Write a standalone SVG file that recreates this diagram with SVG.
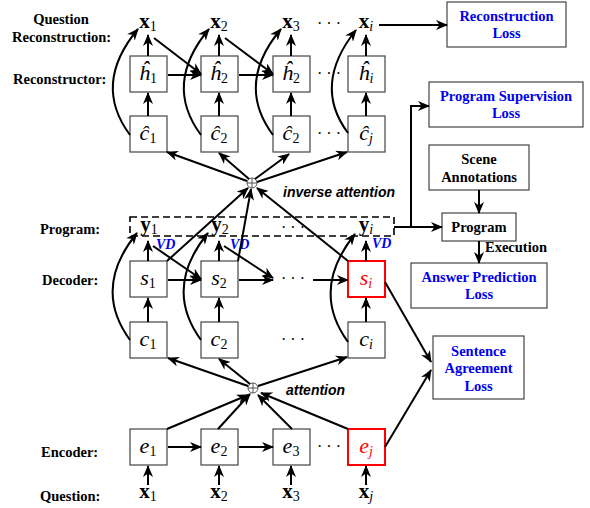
<svg xmlns="http://www.w3.org/2000/svg" width="590" height="508" viewBox="0 0 590 508">
<defs>
<marker id="ah" markerUnits="userSpaceOnUse" markerWidth="12" markerHeight="10" viewBox="0 0 12 10" refX="11" refY="5" orient="auto">
<path d="M0,0 L12,5 L0,10 L3.5,5 z" fill="#000"/>
</marker>
<style>
.bx{fill:#fff;stroke:#444;stroke-width:1.2}
.rb{fill:#fff;stroke:#f00;stroke-width:2}
.lb{font-family:"Liberation Serif",serif;font-weight:bold;font-size:14.5px;fill:#000}
.bl{fill:#0000ee}
.m{font-family:"Liberation Serif",serif;font-style:italic;font-size:22px;text-anchor:middle}
.v{font-family:"Liberation Serif",serif;font-weight:bold;font-size:21px;text-anchor:middle}
.s{font-size:14px;font-style:normal;font-weight:normal}
.si{font-size:14px;font-style:italic;font-weight:normal}
.d{font-family:"Liberation Serif",serif;font-size:16px;text-anchor:middle}
.it{font-family:"Liberation Sans",Arial,sans-serif;font-weight:bold;font-style:italic;font-size:14px}
.vd{font-family:"Liberation Serif",serif;font-weight:bold;font-style:italic;font-size:14px;fill:#0000ee}
.e{stroke:#000;stroke-width:2;fill:none;marker-end:url(#ah)}
.ln{stroke:#000;stroke-width:2;fill:none}
.red{fill:#f00}
.mid{text-anchor:middle}
</style>
</defs>

<g id="labels">
<text class="lb mid" x="61" y="24">Question</text>
<text class="lb" x="12" y="42">Reconstruction:</text>
<text class="lb" x="13" y="84">Reconstructor:</text>
<text class="lb" x="40" y="234">Program:</text>
<text class="lb" x="42" y="285">Decoder:</text>
<text class="lb" x="41" y="457">Encoder:</text>
<text class="lb" x="40" y="501">Question:</text>
</g>

<g id="recon-outputs">
<text class="v" x="148" y="28">x<tspan class="s" dy="3">1</tspan></text>
<text class="v" x="219" y="28">x<tspan class="s" dy="3">2</tspan></text>
<text class="v" x="291" y="28">x<tspan class="s" dy="3">3</tspan></text>
<text class="d" x="329" y="29">· · ·</text>
<text class="v" x="366" y="28">x<tspan class="si" dy="3">i</tspan></text>
</g>

<g id="h1"><rect class="bx" x="130" y="56" width="37" height="36"/><text class="m" x="148" y="80">ĥ<tspan class="s" dy="3">1</tspan></text></g>
<g id="h2"><rect class="bx" x="201" y="56" width="37" height="36"/><text class="m" x="219" y="80">ĥ<tspan class="s" dy="3">2</tspan></text></g>
<g id="h3"><rect class="bx" x="273" y="56" width="37" height="36"/><text class="m" x="291" y="80">ĥ<tspan class="s" dy="3">2</tspan></text></g>
<text class="d" x="329" y="79">· · ·</text>
<g id="hi"><rect class="bx" x="348" y="56" width="37" height="36"/><text class="m" x="366" y="80">ĥ<tspan class="si" dy="3">i</tspan></text></g>

<g id="c1h"><rect class="bx" x="130" y="116" width="37" height="36"/><text class="m" x="148" y="140">ĉ<tspan class="s" dy="3">1</tspan></text></g>
<g id="c2h"><rect class="bx" x="201" y="116" width="37" height="36"/><text class="m" x="219" y="140">ĉ<tspan class="s" dy="3">2</tspan></text></g>
<g id="c3h"><rect class="bx" x="273" y="116" width="37" height="36"/><text class="m" x="291" y="140">ĉ<tspan class="s" dy="3">2</tspan></text></g>
<text class="d" x="329" y="139">· · ·</text>
<g id="cjh"><rect class="bx" x="348" y="116" width="37" height="36"/><text class="m" x="366" y="140">ĉ<tspan class="si" dy="3">j</tspan></text></g>

<g id="inv-att"><circle cx="252" cy="183" r="5" fill="#fff" stroke="#555" stroke-width="1"/><path d="M247,183H257M252,178V188" stroke="#555" stroke-width="1"/></g>
<text class="it" x="283" y="197">inverse attention</text>

<g id="program-row">
<rect x="130" y="217" width="264" height="19" fill="none" stroke="#000" stroke-width="1.6" stroke-dasharray="7,4"/>
<text class="v" x="149" y="231">y<tspan class="s" dy="3">1</tspan></text>
<text class="v" x="220" y="231">y<tspan class="s" dy="3">2</tspan></text>
<text class="d" x="293" y="233">· · ·</text>
<text class="v" x="366" y="231">y<tspan class="si" dy="3">i</tspan></text>
</g>
<text class="vd" x="156" y="249">VD</text>
<text class="vd" x="230" y="249">VD</text>
<text class="vd" x="372" y="248">VD</text>

<g id="s1"><rect class="bx" x="130" y="261" width="37" height="36"/><text class="m" x="148" y="285">s<tspan class="s" dy="3">1</tspan></text></g>
<g id="s2"><rect class="bx" x="201" y="261" width="37" height="36"/><text class="m" x="219" y="285">s<tspan class="s" dy="3">2</tspan></text></g>
<text class="d" x="293" y="284">· · ·</text>
<g id="si"><rect class="rb" x="348" y="261" width="37" height="36"/><text class="m red" x="366" y="285">s<tspan class="si" dy="3">i</tspan></text></g>

<g id="c1"><rect class="bx" x="130" y="322" width="37" height="36"/><text class="m" x="148" y="346">c<tspan class="s" dy="3">1</tspan></text></g>
<g id="c2"><rect class="bx" x="201" y="322" width="37" height="36"/><text class="m" x="219" y="346">c<tspan class="s" dy="3">2</tspan></text></g>
<text class="d" x="293" y="345">· · ·</text>
<g id="ci"><rect class="bx" x="348" y="322" width="37" height="36"/><text class="m" x="366" y="346">c<tspan class="si" dy="3">i</tspan></text></g>

<g id="att"><circle cx="253" cy="388" r="5" fill="#fff" stroke="#555" stroke-width="1"/><path d="M248,388H258M253,383V393" stroke="#555" stroke-width="1"/></g>
<text class="it" x="286" y="395">attention</text>

<g id="e1"><rect class="bx" x="130" y="429" width="37" height="36"/><text class="m" x="148" y="453">e<tspan class="s" dy="3">1</tspan></text></g>
<g id="e2"><rect class="bx" x="201" y="429" width="37" height="36"/><text class="m" x="219" y="453">e<tspan class="s" dy="3">2</tspan></text></g>
<g id="e3"><rect class="bx" x="273" y="429" width="37" height="36"/><text class="m" x="291" y="453">e<tspan class="s" dy="3">3</tspan></text></g>
<text class="d" x="329" y="452">· · ·</text>
<g id="ej"><rect class="rb" x="348" y="429" width="37" height="36"/><text class="m red" x="366" y="453">e<tspan class="si" dy="3">j</tspan></text></g>

<g id="question">
<text class="v" x="148" y="498">x<tspan class="s" dy="3">1</tspan></text>
<text class="v" x="219" y="498">x<tspan class="s" dy="3">2</tspan></text>
<text class="v" x="291" y="498">x<tspan class="s" dy="3">3</tspan></text>
<text class="v" x="366" y="498">x<tspan class="si" dy="3">j</tspan></text>
</g>

<g id="recon-loss"><rect class="bx" x="447" y="2" width="119" height="45"/><text class="lb bl mid" x="506.5" y="21">Reconstruction</text><text class="lb bl mid" x="506.5" y="38">Loss</text></g>
<g id="prog-sup-loss"><rect class="bx" x="429" y="82" width="154" height="45"/><text class="lb bl mid" x="506" y="101">Program Supervision</text><text class="lb bl mid" x="506" y="118">Loss</text></g>
<g id="scene"><rect class="bx" x="429" y="145" width="100" height="45"/><text class="lb mid" x="479" y="164">Scene</text><text class="lb mid" x="479" y="182">Annotations</text></g>
<g id="program"><rect class="bx" x="442" y="213" width="74" height="28"/><text class="lb mid" x="479" y="232">Program</text></g>
<text class="lb" x="485" y="252">Execution</text>
<g id="answer-loss"><rect class="bx" x="411" y="263" width="136" height="45"/><text class="lb bl mid" x="479" y="282">Answer Prediction</text><text class="lb bl mid" x="479" y="299">Loss</text></g>
<g id="sent-loss"><rect class="bx" x="433" y="336" width="91" height="63"/><text class="lb bl mid" x="478.5" y="356">Sentence</text><text class="lb bl mid" x="478.5" y="373">Agreement</text><text class="lb bl mid" x="478.5" y="391">Loss</text></g>

<g id="connectors">
<!-- reconstructor -->
<path class="e" d="M148,56V35"/><path class="e" d="M219,56V35"/><path class="e" d="M291,56V35"/><path class="e" d="M366,56V35"/>
<path class="e" d="M148,116V93"/><path class="e" d="M219,116V93"/><path class="e" d="M291,116V93"/><path class="e" d="M366,116V93"/>
<path class="e" d="M168,75H201"/><path class="e" d="M154,38L201,74"/>
<path class="e" d="M239,75H273"/><path class="e" d="M225,38L273,74"/>
<path class="e" d="M130,135Q92,84 138,29"/>
<path class="e" d="M201,135Q163,84 209,29"/>
<path class="e" d="M273,135Q235,84 281,29"/>
<path class="e" d="M348,133Q312,85 356,30"/>
<path class="e" d="M379,25H447"/>
<!-- inverse attention -->
<path class="e" d="M247,181L167,152"/>
<path class="e" d="M249,179L219,153"/>
<path class="e" d="M255,179L289,154"/>
<path class="e" d="M257,182L347,152"/>
<path class="e" d="M167,261L248,188"/>
<path class="e" d="M238,261L251,189"/>
<path class="e" d="M348,261L257,188"/>
<!-- decoder -->
<path class="e" d="M148,261V241"/><path class="e" d="M219,261V241"/><path class="e" d="M366,261V241"/>
<path class="e" d="M148,322V298"/><path class="e" d="M219,322V298"/><path class="e" d="M366,322V298"/>
<path class="e" d="M168,280H201"/><path class="e" d="M153,246L201,279"/>
<path class="e" d="M239,280H273"/><path class="e" d="M224,246L273,278"/>
<path class="e" d="M313,280H348"/>
<path class="e" d="M130,340Q92,288 137,233"/>
<path class="e" d="M201,340Q163,288 208,233"/>
<path class="e" d="M348,342Q310,290 355,234"/>
<!-- attention -->
<path class="e" d="M248,386L168,358"/>
<path class="e" d="M250,384L219,359"/>
<path class="e" d="M258,386L347,357"/>
<path class="e" d="M167,429L248,395"/>
<path class="e" d="M218,429L250,394"/>
<path class="e" d="M292,429L258,395"/>
<path class="e" d="M348,429L261,393"/>
<!-- encoder -->
<path class="e" d="M168,447H201"/><path class="e" d="M239,447H273"/>
<path class="e" d="M148,485V466"/><path class="e" d="M219,485V466"/><path class="e" d="M291,485V466"/><path class="e" d="M366,485V466"/>
<!-- losses -->
<path class="e" d="M394,227H442"/>
<path class="e" d="M411,227V106H429"/>
<path class="e" d="M479,190V213"/>
<path class="e" d="M479,241V263"/>
<path class="e" d="M385,282L431,362"/>
<path class="e" d="M385,447L431,370"/>
</g>
</svg>
